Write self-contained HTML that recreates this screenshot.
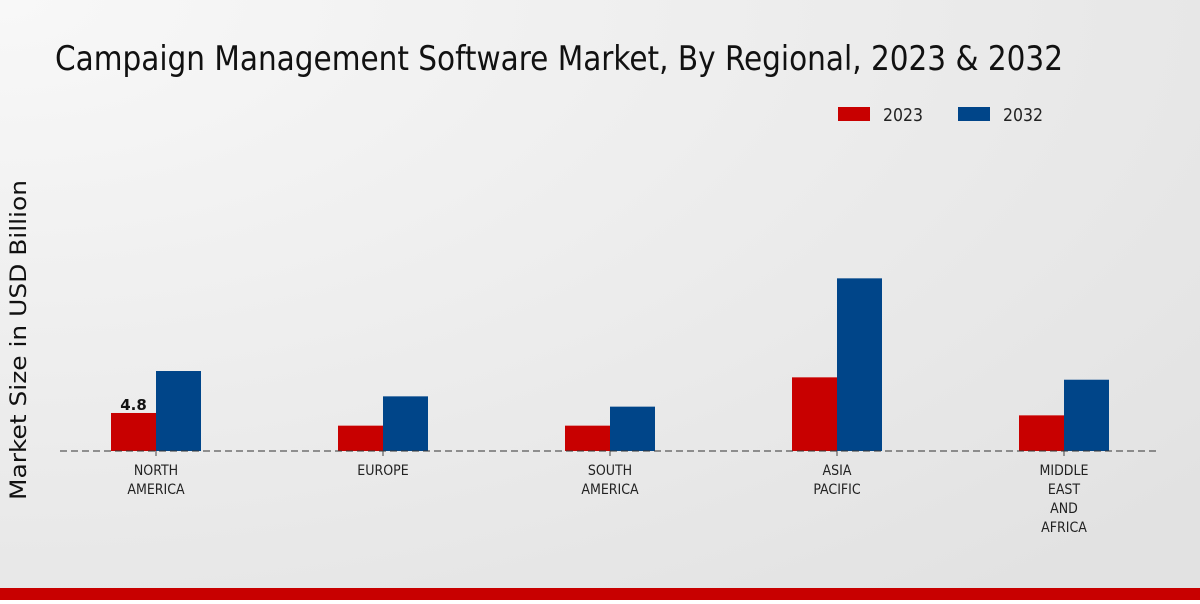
<!DOCTYPE html>
<html><head><meta charset="utf-8"><style>
body{margin:0;width:1200px;height:600px;overflow:hidden;font-family:"DejaVu Sans","Liberation Sans",sans-serif}
</style></head><body>
<svg width="1200" height="600">
<defs><radialGradient id="bg" cx="0" cy="0" r="1.3"><stop offset="0" stop-color="#f8f8f8"/><stop offset="1" stop-color="#e2e2e2"/></radialGradient></defs>
<rect width="1200" height="600" fill="url(#bg)"/>
<text x="55" y="70" font-family="'Liberation Sans Narrow','DejaVu Sans Condensed',sans-serif" font-size="34" textLength="1008" lengthAdjust="spacingAndGlyphs" fill="#111">Campaign Management Software Market, By Regional, 2023 &amp; 2032</text>
<g>
<rect x="838" y="107" width="32" height="14" fill="#c80000"/>
<text x="883" y="121" font-size="18" textLength="40" lengthAdjust="spacingAndGlyphs" font-family="'DejaVu Sans Condensed',sans-serif" fill="#222">2023</text>
<rect x="958" y="107" width="32" height="14" fill="#004589"/>
<text x="1003" y="121" font-size="18" textLength="40" lengthAdjust="spacingAndGlyphs" font-family="'DejaVu Sans Condensed',sans-serif" fill="#222">2032</text>
</g>
<text transform="translate(26,340) rotate(-90)" text-anchor="middle" font-size="22" textLength="320" lengthAdjust="spacingAndGlyphs" fill="#111">Market Size in USD Billion</text>
<g id="bars"></g>
<line x1="60" y1="451" x2="1160" y2="451" stroke="#333" stroke-dasharray="7,4"/>
<g id="labels"></g>
<rect x="0" y="588" width="1200" height="12" fill="#c80000"/>
</svg>
<script>
const categories=[["NORTH","AMERICA"],["EUROPE"],["SOUTH","AMERICA"],["ASIA","PACIFIC"],["MIDDLE","EAST","AND","AFRICA"]];
const values2023=[4.8,3.2,3.2,9.3,4.5];
const values2032=[10.1,6.9,5.6,21.8,9.0];
const shownLabels=["4.8",null,null,null,null];
const NS="http://www.w3.org/2000/svg";
const base=451,scale=7.92,x0=156,step=227,bw=45;
const y=v=>base-v*scale;
const bars=document.getElementById('bars'),labels=document.getElementById('labels');
function mk(t,a,p){const e=document.createElementNS(NS,t);for(const k in a)e.setAttribute(k,a[k]);p.appendChild(e);return e;}
categories.forEach((c,i)=>{
 const cx=x0+i*step;
 const r1=mk('rect',{x:cx-bw,y:y(values2023[i]),width:bw,height:values2023[i]*scale,fill:'#c80000'},bars);
 
 
 const r2=mk('rect',{x:cx,y:y(values2032[i]),width:bw,height:values2032[i]*scale,fill:'#004589'},bars);
 
 
 if(shownLabels[i]){const t=mk('text',{x:cx-bw/2,y:y(values2023[i])-3,'text-anchor':'middle','font-size':15,'font-weight':'bold',fill:'#111'},labels);t.textContent=shownLabels[i];
 
 }
 const tk=mk('line',{x1:cx,x2:cx,y1:451,y2:456,stroke:'#444'},labels);
 
 
 c.forEach((s,j)=>{const t=mk('text',{x:cx,y:475+j*19,'text-anchor':'middle','font-size':14,'font-family':"'DejaVu Sans Condensed',sans-serif",fill:'#222'},labels);t.textContent=s;
 
 });
});
</script>
</body></html>
